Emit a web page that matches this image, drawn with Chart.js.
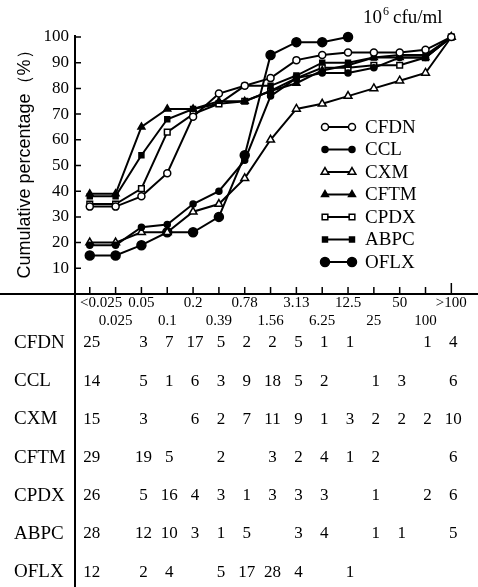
<!DOCTYPE html>
<html>
<head>
<meta charset="utf-8">
<script src="https://cdn.jsdelivr.net/npm/chart.js@4.4.0/dist/chart.umd.min.js"></script>
<style>
  html, body { margin: 0; padding: 0; background: #fff; overflow: hidden; }
  canvas { display: block; }
</style>
</head>
<body>
<canvas id="chart" width="478" height="587"></canvas>
<script>
// MIC classes (x axis), also the columns of the count table
const mics = ['<0.025', '0.025', '0.05', '0.1', '0.2', '0.39', '0.78', '1.56', '3.13', '6.25', '12.5', '25', '50', '100', '>100'];
const drugs = ['CFDN', 'CCL', 'CXM', 'CFTM', 'CPDX', 'ABPC', 'OFLX'];

// cumulative percentage
const cfdn = [34, 34, 38, 47, 69, 78, 81, 84, 91, 93, 94, 94, 94, 95, 100];
const ccl  = [19, 19, 26, 27, 35, 40, 52, 77, 84, 86, 86, 88, 92, 92, 100];
const cxm  = [20, 20, 24, 24, 32, 35, 45, 60, 72, 74, 77, 80, 83, 86, 100];
const cftm = [39, 39, 65, 72, 72, 75, 75, 79, 82, 87, 89, 92, 92, 92, 100];
const cpdx = [35, 35, 41, 63, 70, 74, 75, 79, 84, 88, 88, 89, 89, 92, 100];
const abpc = [38, 38, 54, 68, 72, 74, 81, 81, 85, 90, 90, 92, 93, 93, 100];
const oflx = [15, 15, 19, 24, 24, 30, 54, 93, 98, 98, 100, null, null, null, null];

// number of strains per MIC class (table under the chart)
const cfdnCounts = [25, null, 3, 7, 17, 5, 2, 2, 5, 1, 1, null, null, 1, 4];
const cclCounts  = [14, null, 5, 1, 6, 3, 9, 18, 5, 2, null, 1, 3, null, 6];
const cxmCounts  = [15, null, 3, null, 6, 2, 7, 11, 9, 1, 3, 2, 2, 2, 10];
const cftmCounts = [29, null, 19, 5, null, 2, null, 3, 2, 4, 1, 2, null, null, 6];
const cpdxCounts = [26, null, 5, 16, 4, 3, 1, 3, 3, 3, null, 1, null, 2, 6];
const abpcCounts = [28, null, 12, 10, 3, 1, 5, null, 3, 4, null, 1, 1, null, 5];
const oflxCounts = [12, null, 2, 4, null, 5, 17, 28, 4, null, 1, null, null, null, null];

const yTicks = [10, 20, 30, 40, 50, 60, 70, 80, 90, 100];

const series = [cfdn, ccl, cxm, cftm, cpdx, abpc, oflx];
const counts = [cfdnCounts, cclCounts, cxmCounts, cftmCounts, cpdxCounts, abpcCounts, oflxCounts];
const markers = [
  { style: 'circle',   radius: 3.5, fill: '#fff' },
  { style: 'circle',   radius: 3,   fill: '#000' },
  { style: 'triangle', radius: 4.5, fill: '#fff' },
  { style: 'triangle', radius: 4,   fill: '#000' },
  { style: 'rect',     radius: 4,   fill: '#fff' },
  { style: 'rect',     radius: 3.5, fill: '#000' },
  { style: 'circle',   radius: 4.5, fill: '#000' },
];

const serif = "'Liberation Serif', 'Times New Roman', serif";
const sans = "'Liberation Sans', Arial, sans-serif";

const datasets = drugs.map((name, k) => ({
  label: name,
  data: series[k].map((v, i) => ({ x: i, y: v })),
  borderColor: '#000',
  borderWidth: 2,
  tension: 0,
  clip: false,
  pointStyle: markers[k].style,
  pointRadius: markers[k].radius,
  pointBackgroundColor: markers[k].fill,
  pointBorderColor: '#000',
  pointBorderWidth: 1.5,
}));

const frame = {
  id: 'frame',
  beforeDatasetsDraw(chart) {
    const { ctx, scales: { x, y } } = chart;
    const x0 = x.getPixelForValue(x.min);
    const y0 = y.getPixelForValue(0);
    ctx.save();
    ctx.strokeStyle = '#000';
    ctx.lineWidth = 2;
    ctx.beginPath();
    ctx.moveTo(x0, y.getPixelForValue(100) - 2);
    ctx.lineTo(x0, chart.height);
    ctx.moveTo(0, y0);
    ctx.lineTo(chart.width, y0);
    ctx.stroke();
    ctx.lineWidth = 1.5;
    ctx.beginPath();
    yTicks.forEach(v => {
      const py = y.getPixelForValue(v);
      ctx.moveTo(x0, py);
      ctx.lineTo(x0 + 6, py);
    });
    mics.forEach((m, i) => {
      const px = x.getPixelForValue(i);
      ctx.moveTo(px, y0);
      ctx.lineTo(px, y0 - (i === mics.length - 1 ? 11 : 7));
    });
    ctx.stroke();

    // y axis title
    ctx.fillStyle = '#000';
    ctx.font = '18px ' + sans;
    ctx.textAlign = 'center';
    ctx.textBaseline = 'middle';
    ctx.translate(25, 160);
    ctx.rotate(-Math.PI / 2);
    ctx.fillText('Cumulative percentage（%）', 0, 0);
    ctx.restore();
  },
  afterDraw(chart) {
    const { ctx, scales: { x } } = chart;
    ctx.save();
    ctx.fillStyle = '#000';
    ctx.strokeStyle = '#000';

    // count table
    ctx.textBaseline = 'middle';
    drugs.forEach((name, k) => {
      const rowY = 343 + k * 38.2;
      ctx.font = '19px ' + serif;
      ctx.textAlign = 'left';
      ctx.fillText(name, 14, rowY);
      ctx.font = '17px ' + serif;
      ctx.textAlign = 'center';
      counts[k].forEach((n, i) => {
        if (n !== null) ctx.fillText(String(n), x.getPixelForValue(i) + 2, rowY);
      });
    });

    // legend
    drugs.forEach((name, k) => {
      const ly = 127 + k * 22.5;
      ctx.lineWidth = 2;
      ctx.beginPath();
      ctx.moveTo(325, ly);
      ctx.lineTo(352, ly);
      ctx.stroke();
      [325, 352].forEach(px => {
        ctx.fillStyle = markers[k].fill;
        ctx.lineWidth = 1.5;
        Chart.helpers.drawPoint(ctx, { pointStyle: markers[k].style, radius: markers[k].radius, borderWidth: 1.5, rotation: 0 }, px, ly);
      });
      ctx.fillStyle = '#000';
      ctx.textAlign = 'left';
      ctx.font = '19px ' + serif;
      ctx.fillText(name, 365, ly + 1);
    });

    // unit label
    ctx.textBaseline = 'alphabetic';
    ctx.font = '19px ' + serif;
    ctx.fillText('10', 363, 23);
    const w10 = ctx.measureText('10').width;
    ctx.font = '12px ' + serif;
    ctx.fillText('6', 363 + w10 + 1, 15);
    ctx.font = '19px ' + serif;
    ctx.fillText('cfu/ml', 363 + w10 + 11, 23);
    ctx.restore();
  }
};

new Chart(document.getElementById('chart'), {
  type: 'line',
  data: { datasets },
  plugins: [frame],
  options: {
    responsive: false,
    animation: false,
    devicePixelRatio: 1,
    layout: { padding: { top: 37, right: 0, bottom: 0, left: 0 } },
    plugins: { legend: { display: false }, tooltip: { enabled: false } },
    scales: {
      x: {
        type: 'linear',
        min: -0.572,
        max: 14.8,
        afterBuildTicks: scale => { scale.ticks = mics.map((m, i) => ({ value: i })); },
        afterFit: scale => { scale.height = 293; },
        grid: { display: false, drawTicks: false },
        border: { display: false },
        ticks: {
          autoSkip: false,
          maxRotation: 0,
          padding: 0,
          color: '#000',
          font: { family: serif, size: 15, lineHeight: 1.2 },
          callback: (v) => {
            const lab = mics[v];
            if (v === 0) return ['\u2003\u2002' + lab, ''];
            return v % 2 === 0 ? [lab, ''] : ['', lab];
          }
        }
      },
      y: {
        min: 0,
        max: 100,
        afterBuildTicks: scale => { scale.ticks = yTicks.map(v => ({ value: v })); },
        afterFit: scale => { scale.width = 75; },
        grid: { display: false, drawTicks: false },
        border: { display: false },
        ticks: {
          padding: 6,
          color: '#000',
          font: { family: serif, size: 17 },
        }
      }
    }
  }
});
</script>
</body>
</html>
